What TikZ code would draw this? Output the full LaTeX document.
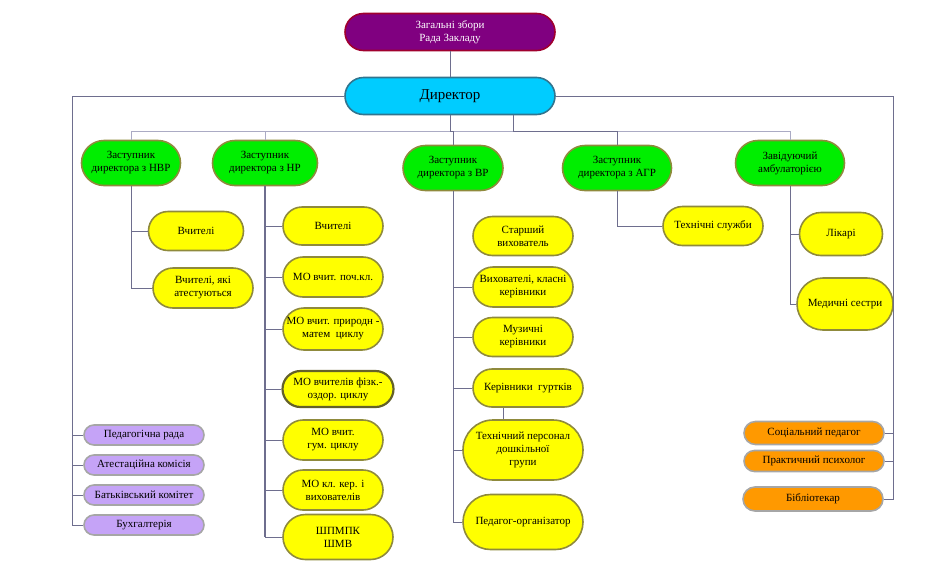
\documentclass[tikz,border=0pt]{standalone}
\usepackage{fontspec}
\setmainfont{Liberation Serif}
\definecolor{sobrfill}{HTML}{800080}
\definecolor{sobrline}{HTML}{A0002E}
\definecolor{dirfill}{HTML}{00CCFF}
\definecolor{dirline}{HTML}{31758F}
\definecolor{zamfill}{HTML}{00EE00}
\definecolor{olive}{HTML}{8F8A3C}
\definecolor{yel}{HTML}{FFFF00}
\definecolor{lav}{HTML}{C5A3F7}
\definecolor{orng}{HTML}{FF9900}
\definecolor{boxgray}{HTML}{A6A6A6}
\definecolor{linedark}{HTML}{6E6E8E}
\definecolor{linelight}{HTML}{ABABC4}
\begin{document}
\begin{tikzpicture}[x=1pt,y=-1pt,
      pill/.style 2 args={draw,line width=1.6pt,align=center,inner sep=0pt,
            minimum width=#1pt,minimum height=#2pt,rounded corners={0.5*#2pt},
            font=\fontsize{11}{13}\selectfont},
      zam/.style={fill=zamfill,draw=olive},
      sub/.style={fill=yel,draw=olive},
      rada/.style={fill=lav,draw=boxgray},
      serv/.style={fill=orng,draw=boxgray},
      link/.style={draw=linedark,line width=0.7pt},
      tier/.style={draw=linelight,line width=0.9pt}]
      \useasboundingbox (0,0) rectangle (936,584);

      \node[pill={210}{37},fill=sobrfill,draw=sobrline,text=white] (sobr) at (450,32)
            {Загальні збори\\Рада Закладу};
      \node[pill={210}{37},fill=dirfill,draw=dirline,font=\fontsize{15}{17}\selectfont] (dir) at (450,96)
            {Директор};

      \node[pill={99}{45},zam] (znvr) at (131,163) {Заступник\\директора з НВР};
      \node[pill={105}{45},zam] (znr) at (265,163) {Заступник\\директора з НР};
      \node[pill={100}{45},zam] (zvr) at (453,168) {Заступник\\директора з ВР};
      \node[pill={109}{45},zam] (zagr) at (617,168) {Заступник\\директора з АГР};
      \node[pill={109}{45},zam] (zav) at (790,163) {Завідуючий\\амбулаторією};

      \node[pill={95}{39},sub] (vch) at (196,231) {Вчителі};
      \node[pill={100}{40},sub] (vchat) at (203,288) {Вчителі, які\\атестуються};

      \node[pill={100}{38},sub] (vchnr) at (333,226) {Вчителі};
      \node[pill={100}{40},sub] (mopoch) at (333,277) {МО вчит. поч.кл.};
      \node[pill={100}{42},sub] (moprm) at (333,329) {МО вчит. природн -\\матем~~циклу};
      \node[pill={111}{36},sub,draw=olive!70!black,line width=2.2pt] (mofiz) at (338,389)
            {МО вчителів фізк.-\\оздор. циклу};
      \node[pill={100}{40},sub] (mogum) at (333,440) {МО вчит.\\гум. циклу};
      \node[pill={100}{40},sub] (mokl) at (333,490) {МО кл. кер. і\\вихователів};
      \node[pill={110}{45},sub] (shmpk) at (338,537) {ШПМПК\\ШМВ};

      \node[pill={100}{39},sub] (starsh) at (523,236) {Старший\\вихователь};
      \node[pill={100}{40},sub] (vykl) at (523,287) {Вихователі, класні\\керівники};
      \node[pill={100}{39},sub] (muz) at (523,337) {Музичні\\керівники};
      \node[pill={110}{38},sub] (kerg) at (528,388) {Керівники~~гуртків};
      \node[pill={120}{60},sub] (tehp) at (523,450) {Технічний персонал\\дошкільної\\групи};
      \node[pill={120}{55},sub] (porg) at (523,522) {Педагог-організатор};

      \node[pill={100}{39},sub] (tsl) at (713,226) {Технічні служби};
      \node[pill={83}{43},sub] (likar) at (841,234) {Лікарі};
      \node[pill={96}{52},sub] (medses) at (845,304) {Медичні сестри};

      \node[pill={120}{20},rada] (pedr) at (144,435) {Педагогічна рада};
      \node[pill={120}{20},rada] (atest) at (144,465) {Атестаційна комісія};
      \node[pill={120}{20},rada] (batk) at (144,495) {Батьківський комітет};
      \node[pill={120}{20},rada] (buh) at (144,525) {Бухгалтерія};

      \node[pill={140}{23},serv] (socp) at (814,433) {Соціальний педагог};
      \node[pill={140}{21},serv] (psyh) at (814,461) {Практичний психолог};
      \node[pill={140}{24},serv] (bibl) at (813,499) {Бібліотекар};

      \coordinate (lbus) at (72,525);
      \coordinate (rbus) at (893,499);
      \coordinate (bus) at (0,131);

      \draw[link] (sobr) -- (dir);
      \draw[link] (dir.west) -| (lbus) -- (buh.west);
      \draw[link] (pedr.west) -- (pedr.west -| lbus);
      \draw[link] (atest.west) -- (atest.west -| lbus);
      \draw[link] (batk.west) -- (batk.west -| lbus);
      \draw[link] (dir.east) -| (rbus) -- (bibl.east);
      \draw[link] (socp.east) -- (socp.east -| rbus);
      \draw[link] (psyh.east) -- (psyh.east -| rbus);

      \draw[tier] (znvr.north) -- (znvr.north |- bus) -- (zav.north |- bus) -- (zav.north);
      \draw[tier] (znr.north) -- (znr.north |- bus);
      \draw[link] (dir.south) -- (dir.south |- bus) -| (zvr.north);
      \draw[link] ([xshift=63pt]dir.south) -- ([xshift=63pt]dir.south |- bus) -| (zagr.north);

      \draw[link] (vch.west) -| (znvr.south);
      \draw[link] (vchat.west) -| (znvr.south);

      \draw[link,line width=1.4pt] (znr.south) -- (znr.south |- shmpk.west);
      \foreach \n in {vchnr,mopoch,moprm,mofiz,mogum,mokl,shmpk}
            \draw[link] (\n.west) -| (znr.south);

      \foreach \n in {vykl,muz,kerg,tehp,porg}
            \draw[link] (\n.west) -| (zvr.south);
      \draw[link] ([xshift=-25pt]kerg.south) -- ([xshift=-25pt]kerg.south |- tehp.north);

      \draw[link] (tsl.west) -| (zagr.south);
      \draw[link] (likar.west) -| (zav.south);
      \draw[link] (medses.west) -| (zav.south);
\end{tikzpicture}
\end{document}
